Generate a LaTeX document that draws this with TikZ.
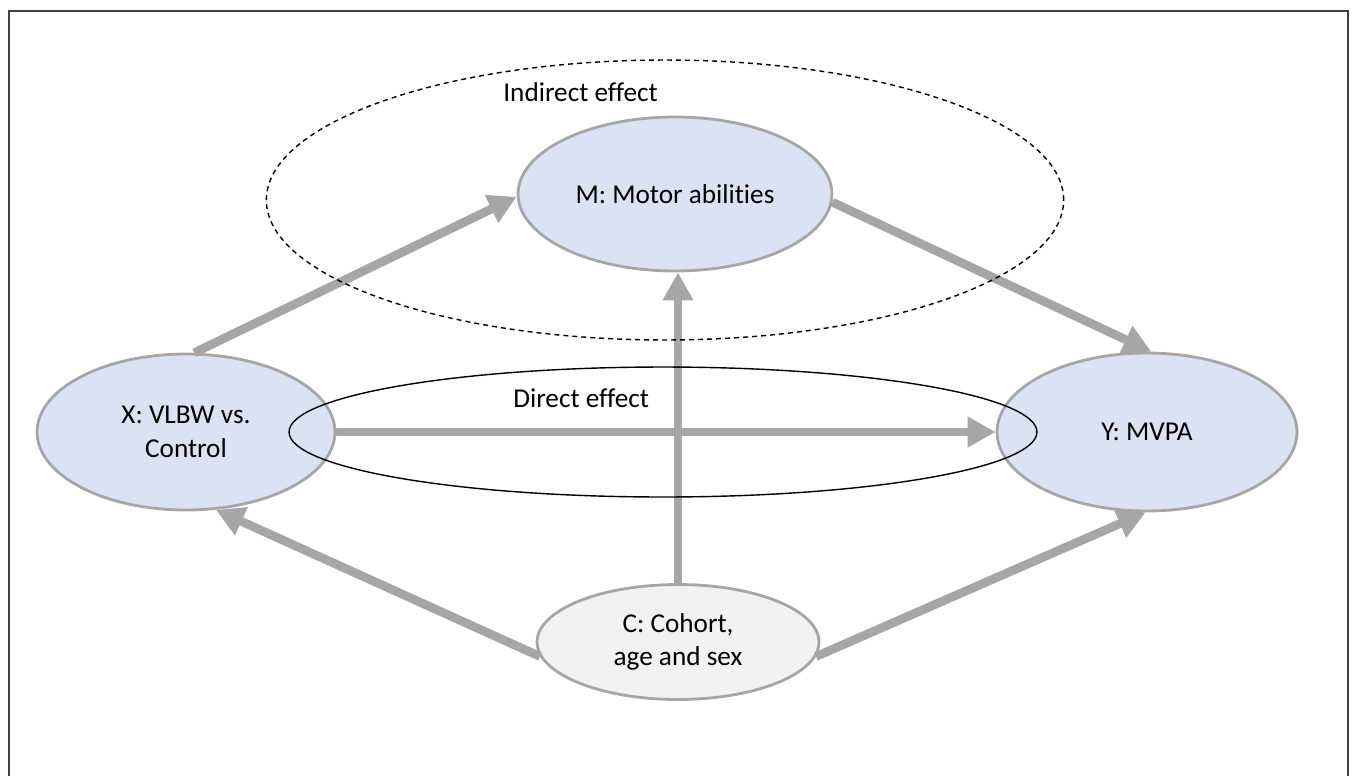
\documentclass[tikz,border=0pt]{standalone}
\usepackage{fontspec}
\setmainfont{Carlito}[Ligatures=NoCommon]
\usetikzlibrary{shapes.geometric,arrows.meta}
\definecolor{varblue}{RGB}{218,227,243}
\definecolor{vargrey}{RGB}{242,242,242}
\definecolor{edgegrey}{RGB}{166,166,166}
\definecolor{framegrey}{RGB}{64,64,64}

\begin{document}
\begin{tikzpicture}[x=0.02cm, y=-0.02cm,
    var/.style={ellipse, draw=edgegrey, line width=1.6pt, fill=varblue, inner sep=0pt, align=center, font=\fontsize{15.5}{19}\selectfont},
    effect/.style={draw=edgegrey, line width=5pt, -{Triangle[length=0.56cm, width=0.58cm]}},
    lbl/.style={anchor=west, inner sep=0pt, font=\fontsize{15.5}{19}\selectfont}]
    \useasboundingbox (0,0) rectangle (1352,775);
    \draw[framegrey, line width=1.2pt] (9,11) rectangle (1348,790);

    % Variables
    \node[var, minimum width=6.28cm, minimum height=3.08cm] (M) at (675,194) {M: Motor abilities};
    \node[var, minimum width=5.96cm, minimum height=3.12cm] (X) at (186,432) {X: VLBW vs.\\Control};
    \node[var, minimum width=6cm, minimum height=3.16cm] (Y) at (1147,432) {Y: MVPA};
    \node[var, fill=vargrey, minimum width=5.64cm, minimum height=2.3cm] (C) at (678,642) {C: Cohort,\\age and sex};

    % Paths
    \draw[effect] (X.84) -- (M.181);
    \draw[effect] (M.357) -- (Y.87);
    \draw[effect] (X.east) -- (Y.west);
    \draw[effect] (C.north) -- (C.north |- M.south);
    \draw[effect] (C.186) -- (X.291);
    \draw[effect] (C.354) -- (Y.269);

    % Effect groups
    \node[ellipse, draw, dash pattern=on 0.1cm off 0.08cm, line width=0.8pt, minimum width=15.95cm, minimum height=5.6cm] (indirect) at (665,200) {};
    \node[ellipse, draw, line width=0.8pt, minimum width=14.96cm, minimum height=2.6cm] (direct) at (663,432) {};
    \node[lbl] (indlbl) at (503,92) {Indirect effect};
    \node[lbl] (dirlbl) at (513,398) {Direct effect};
\end{tikzpicture}
\end{document}
